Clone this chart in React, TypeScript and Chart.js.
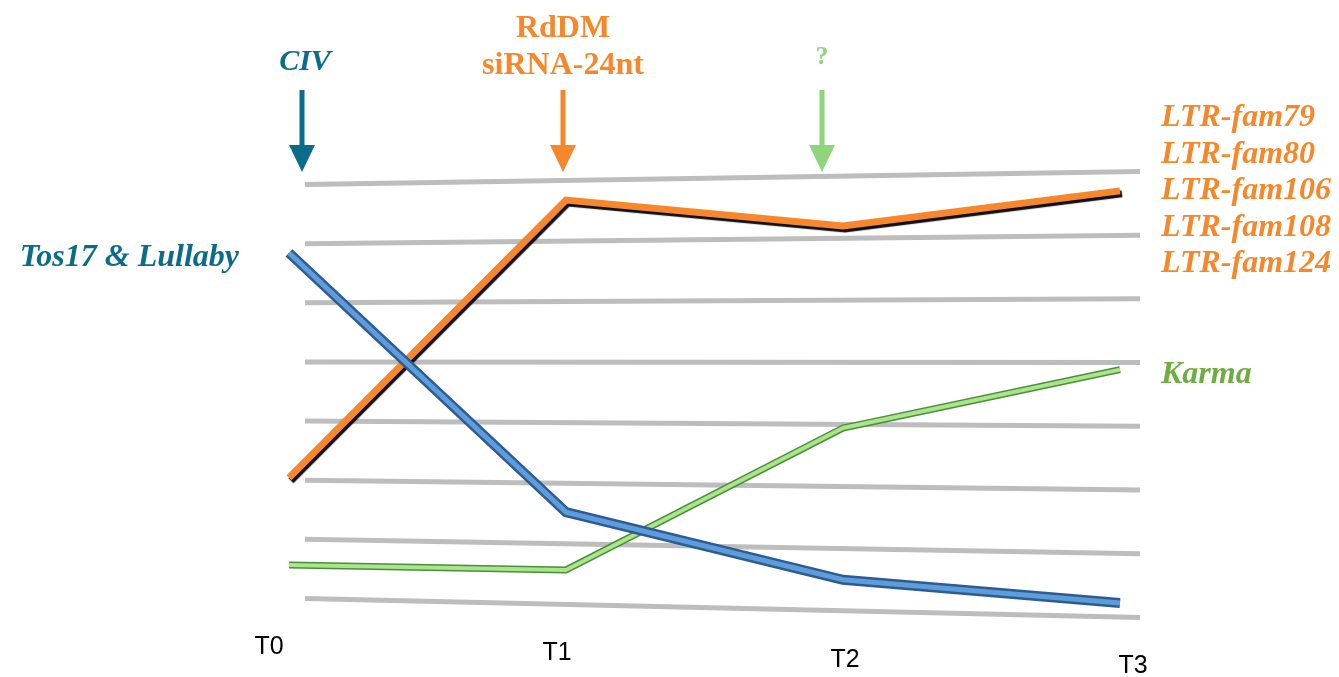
import React, { useEffect, useRef } from "react";
import { Chart, registerables } from "chart.js";

Chart.register(...registerables);

// ---- data ----
const categories = ["T0", "T1", "T2", "T3"];
const tosLullaby = [5.78, 1.56, 0.46, 0.08];
const ltrFamilies = [2.12, 6.64, 6.22, 6.79];
const karma = [0.7, 0.62, 2.93, 3.88];
const gridValues = [0, 1, 2, 3, 4, 5, 6, 7];
const ltrLabels = ["LTR-fam79", "LTR-fam80", "LTR-fam106", "LTR-fam108", "LTR-fam124"];
const karmaLabel = "Karma";
const tosLabel = "Tos17 & Lullaby";
const civLabel = ["CIV"];
const rddmLabel = ["RdDM", "siRNA-24nt"];
const unknownLabel = ["?"];

const TEAL = "#0B6C8A";
const ORANGE = "#F7872B";
const GREEN_ARROW = "#8FD67A";
const GREEN_TEXT = "#6EAD40";

const SERIF = '"Liberation Serif", "DejaVu Serif", serif';

function drawArrow(ctx: CanvasRenderingContext2D, x: number, color: string) {
  ctx.save();
  ctx.fillStyle = color;
  ctx.fillRect(x - 2.5, 90, 5, 58);
  ctx.beginPath();
  ctx.moveTo(x - 13, 145);
  ctx.lineTo(x + 13, 145);
  ctx.lineTo(x, 172);
  ctx.closePath();
  ctx.fill();
  ctx.restore();
}

const decorPlugin = {
  id: "decor",
  beforeDatasetsDraw(chart: any) {
    const { ctx, chartArea, scales } = chart;
    const y = scales.y;
    ctx.save();
    ctx.strokeStyle = "#BDBDBD";
    ctx.lineWidth = 5;
    for (const v of gridValues) {
      const yc = y.getPixelForValue(v);
      const tilt = 19 - 4.6 * v;
      ctx.beginPath();
      ctx.moveTo(chartArea.left + 16, yc - tilt / 2);
      ctx.lineTo(chartArea.right + 20, yc + tilt / 2);
      ctx.stroke();
    }
    ctx.restore();
  },
  beforeDatasetDraw(chart: any, args: any) {
    const ds = chart.data.datasets[args.index];
    if (ds.shadow) {
      const ctx = chart.ctx;
      ctx.save();
      ctx.shadowColor = ds.shadow;
      ctx.shadowOffsetX = 2;
      ctx.shadowOffsetY = 3;
      ctx.shadowBlur = 1;
    }
  },
  afterDatasetDraw(chart: any, args: any) {
    const ds = chart.data.datasets[args.index];
    if (ds.shadow) chart.ctx.restore();
  },
  afterDraw(chart: any) {
    const { ctx, scales } = chart;
    const x = scales.x;
    ctx.save();
    ctx.textBaseline = "middle";

    // arrows + headers
    const x0 = x.getPixelForValue(0) + 13;
    const x1 = x.getPixelForValue(1) - 3;
    const x2 = x.getPixelForValue(2) - 21;
    drawArrow(ctx, x0, TEAL);
    drawArrow(ctx, x1, ORANGE);
    drawArrow(ctx, x2, GREEN_ARROW);

    ctx.textAlign = "center";
    ctx.fillStyle = TEAL;
    ctx.font = `bold italic 30px ${SERIF}`;
    civLabel.forEach((t, i) => ctx.fillText(t, x0 + 3, 62 + i * 37));
    ctx.fillStyle = ORANGE;
    ctx.font = `bold 32px ${SERIF}`;
    rddmLabel.forEach((t, i) => ctx.fillText(t, x1, 29 + i * 37));
    ctx.fillStyle = GREEN_ARROW;
    ctx.font = `bold 26px ${SERIF}`;
    unknownLabel.forEach((t, i) => ctx.fillText(t, x2, 57 + i * 37));

    // right labels
    ctx.textAlign = "left";
    ctx.fillStyle = ORANGE;
    ctx.font = `bold italic 32px ${SERIF}`;
    ltrLabels.forEach((t, i) => ctx.fillText(t, 1161, 118 + i * 36.5));
    ctx.fillStyle = GREEN_TEXT;
    ctx.fillText(karmaLabel, 1161, 375);

    // left label
    ctx.textAlign = "right";
    ctx.fillStyle = TEAL;
    ctx.fillText(tosLabel, 239, 258);

    // category labels
    ctx.textAlign = "center";
    ctx.fillStyle = "#000";
    ctx.font = `25px "Liberation Sans", Arial, sans-serif`;
    categories.forEach((c, i) => {
      const px = x.getPixelForValue(i) - 20 + i * 11;
      ctx.fillText(c, px, 647 + i * 6.5);
    });
    ctx.restore();
  },
};

export default function App() {
  const ref = useRef<HTMLCanvasElement>(null);
  useEffect(() => {
    if (!ref.current) return;
    const chart = new Chart(ref.current, {
      type: "line",
      data: {
        labels: categories,
        datasets: [
          {
            label: "Tos17 & Lullaby core",
            data: tosLullaby,
            borderColor: "#5E9DDB",
            borderWidth: 5,
            order: 0,
          },
          {
            label: "Tos17 & Lullaby",
            data: tosLullaby,
            borderColor: "#2D5B92",
            borderWidth: 10,
            order: 1,
          },
          {
            label: "LTR families",
            data: ltrFamilies,
            borderColor: ORANGE,
            borderWidth: 7,
            order: 2,
            shadow: "rgba(0,0,0,0.95)",
          } as any,
          {
            label: "Karma core",
            data: karma,
            borderColor: "#A8E68C",
            borderWidth: 4,
            order: 3,
          },
          {
            label: "Karma",
            data: karma,
            borderColor: "#4E8C3A",
            borderWidth: 7,
            order: 4,
          },
        ].map((d) => ({
          ...d,
          pointRadius: 0,
          tension: 0,
          fill: false,
          clip: false as any,
          borderJoinStyle: "miter" as const,
          borderCapStyle: "butt" as const,
        })),
      },
      options: {
        animation: false,
        responsive: false,
        devicePixelRatio: 1,
        layout: { padding: { left: 289, right: 219, top: 178, bottom: 69 } },
        plugins: { legend: { display: false }, tooltip: { enabled: false } },
        scales: {
          x: { type: "category", display: false, offset: false },
          y: { display: false, min: 0, max: 7 },
        },
      },
      plugins: [decorPlugin],
    });
    return () => chart.destroy();
  }, []);
  return (
    <div style={{ position: "absolute", left: 0, top: 0, width: 1339, height: 677, background: "#fff" }}>
      <canvas ref={ref} width={1339} height={677} />
    </div>
  );
}
